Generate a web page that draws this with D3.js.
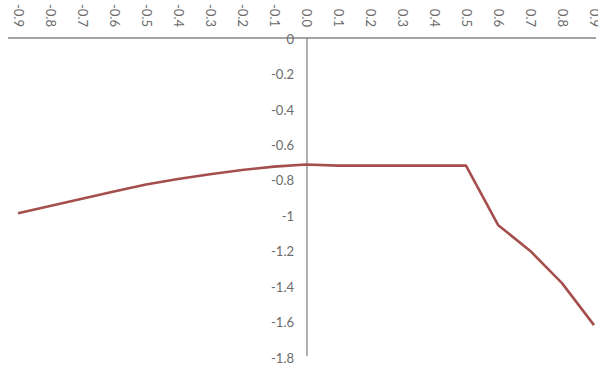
<!DOCTYPE html>
<html>
<head>
<meta charset="utf-8">
<script src="https://cdn.jsdelivr.net/npm/d3@7"></script>
<style>
  html, body { margin: 0; padding: 0; background: #fff; }
  svg { display: block; }
  .tick text { font-family: Lato, "Open Sans", sans-serif; font-size: 13px; fill: #6b6b6b; }
</style>
</head>
<body>
<svg id="chart" width="598" height="371"></svg>
<script>
// Category labels along the horizontal axis
const categories = ["-0.9","-0.8","-0.7","-0.6","-0.5","-0.4","-0.3","-0.2","-0.1","0.0",
                    "0.1","0.2","0.3","0.4","0.5","0.6","0.7","0.8","0.9"];
// Series value at each category
const values = [-0.989,-0.948,-0.907,-0.866,-0.827,-0.796,-0.769,-0.745,-0.726,-0.714,
                -0.72,-0.72,-0.72,-0.72,-0.72,-1.055,-1.2,-1.383,-1.62];
// Vertical axis tick values
const yTicks = [0,-0.2,-0.4,-0.6,-0.8,-1,-1.2,-1.4,-1.6,-1.8];

const svg = d3.select("#chart");

const x = d3.scalePoint().domain(categories).range([18, 594]);
const y = d3.scaleLinear().domain([-1.8, 0]).range([357, 38]);

const axisColor = "#858585";
const x0 = x("0.0") + 1;

// Horizontal axis along y = 0, labels above, rotated
const gx = svg.append("g").attr("transform", `translate(0,${y(0)})`)
  .call(d3.axisTop(x).tickSize(0).tickPadding(0));
gx.select(".domain").remove();
gx.selectAll(".tick text")
  .attr("transform", "rotate(90)")
  .attr("text-anchor", "end")
  .attr("x", -11)
  .attr("y", 0)
  .attr("dy", "0.35em");
svg.append("line")
  .attr("x1", 8).attr("x2", 596)
  .attr("y1", y(0)).attr("y2", y(0))
  .attr("stroke", axisColor).attr("stroke-width", 1.3);

// Vertical axis through the 0.0 category
const gy = svg.append("g").attr("transform", `translate(${x0},0)`)
  .call(d3.axisLeft(y).tickValues(yTicks).tickSize(0).tickPadding(13)
    .tickFormat(d => String(+d.toFixed(1))));
gy.select(".domain").remove();
gy.selectAll(".tick text").attr("dy", "0.4em");
svg.append("line")
  .attr("x1", x0).attr("x2", x0)
  .attr("y1", y(0)).attr("y2", 356)
  .attr("stroke", axisColor).attr("stroke-width", 1.3);

// Series line
const line = d3.line()
  .x((d, i) => x(categories[i]))
  .y(d => y(d));
svg.append("path")
  .datum(values)
  .attr("fill", "none")
  .attr("stroke", "#a54f4d")
  .attr("stroke-width", 2.6)
  .attr("stroke-linejoin", "round")
  .attr("d", line);
</script>
</body>
</html>
